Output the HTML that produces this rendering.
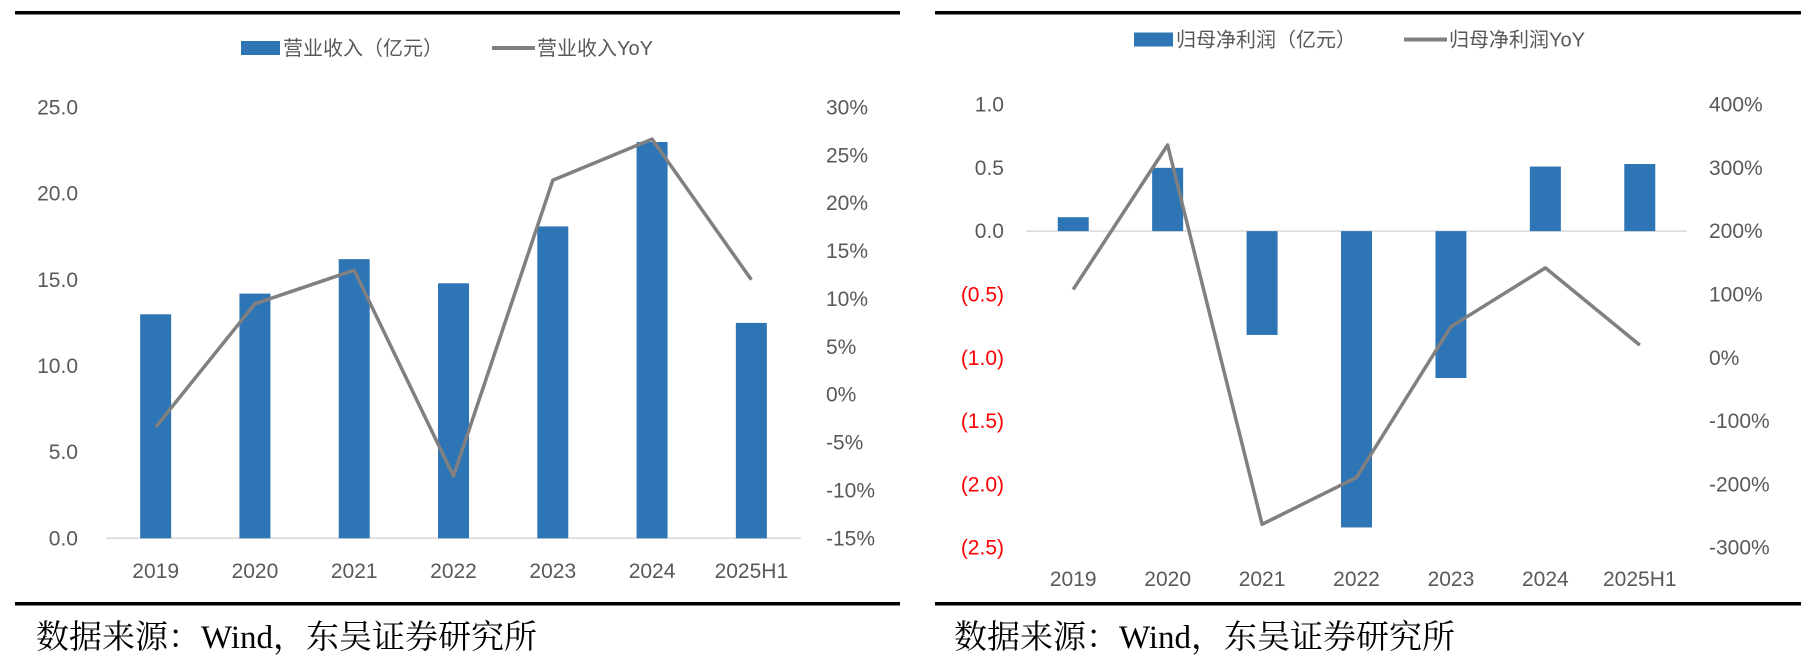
<!DOCTYPE html>
<html><head><meta charset="utf-8">
<style>
html,body{margin:0;padding:0;background:#fff;}
svg{display:block;}
text{font-family:"Liberation Sans","Noto Sans CJK SC",sans-serif;}
.src{font-family:"Liberation Serif","Noto Serif CJK SC",serif;font-size:33px;fill:#000;}
</style></head>
<body>
<svg id="c" width="1812" height="670" viewBox="0 0 1812 670" xmlns="http://www.w3.org/2000/svg">
<rect x="15" y="11" width="885" height="3.5" fill="#000"/>
<rect x="15" y="602" width="885" height="3.5" fill="#000"/>
<rect x="935" y="11" width="866" height="3.5" fill="#000"/>
<rect x="935" y="602" width="866" height="3.5" fill="#000"/>
<text class="src" x="36" y="648">数据来源：Wind，东吴证券研究所</text>
<text class="src" x="954" y="648">数据来源：Wind，东吴证券研究所</text>
</svg>
<script>
const categories = ["2019","2020","2021","2022","2023","2024","2025H1"];
const revenue = [13.0, 14.2, 16.2, 14.8, 18.1, 23.0, 12.5];
const revenueYoy = [-3.4, 9.5, 13.0, -8.5, 22.4, 26.7, 12.0];
const revTicks = [0, 5, 10, 15, 20, 25];
const revYoyTicks = [-15, -10, -5, 0, 5, 10, 15, 20, 25, 30];
const profit = [0.11, 0.50, -0.82, -2.34, -1.16, 0.51, 0.53];
const profitYoy = [108, 336, -263, -189, 49, 142, 20];
const profitTicks = [1.0, 0.5, 0.0, -0.5, -1.0, -1.5, -2.0, -2.5];
const profitYoyTicks = [400, 300, 200, 100, 0, -100, -200, -300];

const svg = document.getElementById('c');
const NS = "http://www.w3.org/2000/svg";
function mk(tag, attrs, txt){
  const e = document.createElementNS(NS, tag);
  for (const k in attrs) e.setAttribute(k, attrs[k]);
  if (txt !== undefined) e.textContent = txt;
  svg.appendChild(e);
  return e;
}
const BLUE = "#2E75B6", GREY = "#808080", LBL = "#595959";

function drawChart(o){
  const x0 = o.x0, x1 = o.x1, n = categories.length, step = (x1 - x0)/n;
  const cx = i => x0 + step*(i+0.5);
  const yL = v => o.yTop + (o.lMax - v)/(o.lMax - o.lMin)*(o.yBot - o.yTop);
  const yR = v => o.yTop + (o.rMax - v)/(o.rMax - o.rMin)*(o.yBot - o.yTop);
  let e = mk('rect', {x:o.lg.bx, y:o.lg.y-7, width:39, height:14, fill:BLUE});
  
  
  e = mk('text', {x:o.lg.bx+42, y:o.lg.y+7, 'font-size':20, fill:LBL}, o.lg.t1);
  
  
  e = mk('line', {x1:o.lg.lx, x2:o.lg.lx+43, y1:o.lg.y, y2:o.lg.y, stroke:GREY, 'stroke-width':4});
  
  
  e = mk('text', {x:o.lg.lx+45, y:o.lg.y+7, 'font-size':20, fill:LBL}, o.lg.t2);
  
  
  o.lTicks.forEach(t => {
    const neg = t < 0;
    const lab = neg ? "(" + Math.abs(t).toFixed(1) + ")" : t.toFixed(1);
    const el = mk('text', {x:o.lLabX, y:yL(t)+7, 'font-size':21, 'text-anchor':'end', fill: neg ? "#FF0000" : LBL}, lab);
    
    
  });
  o.rTicks.forEach(t => {
    const el = mk('text', {x:o.rLabX, y:yR(t)+7, 'font-size':21, fill:LBL}, t + "%");
    
    
  });
  e = mk('line', {x1:x0, x2:x1, y1:yL(0), y2:yL(0), stroke:"#D9D9D9", 'stroke-width':1.5});
  
  
  o.bars.forEach((v,i) => {
    const y = Math.min(yL(v), yL(0)), h = Math.abs(yL(v) - yL(0));
    const b = mk('rect', {x:cx(i)-15.5, y:y, width:31, height:h, fill:BLUE});
    
    
  });
  const pts = o.line.map((v,i) => cx(i).toFixed(1) + "," + yR(v).toFixed(1)).join(" ");
  e = mk('polyline', {points:pts, fill:'none', stroke:GREY, 'stroke-width':3.5, 'stroke-linejoin':'round'});
  
  
  categories.forEach((c,i) => {
    const t = mk('text', {x:cx(i), y:o.xLabY, 'font-size':21, 'text-anchor':'middle', fill:LBL}, c);
    
    
  });
}

drawChart({x0:106, x1:801, yTop:107.5, yBot:538.3, lMin:0, lMax:25, rMin:-15, rMax:30,
  lTicks:revTicks, rTicks:revYoyTicks, lLabX:78, rLabX:826, xLabY:578,
  bars:revenue, line:revenueYoy,
  lg:{bx:241, y:48, lx:492, t1:"营业收入（亿元）", t2:"营业收入YoY"}});
drawChart({x0:1026, x1:1687, yTop:104.5, yBot:547.7, lMin:-2.5, lMax:1.0, rMin:-300, rMax:400,
  lTicks:profitTicks, rTicks:profitYoyTicks, lLabX:1004, rLabX:1709, xLabY:586,
  bars:profit, line:profitYoy,
  lg:{bx:1134, y:39.5, lx:1404, t1:"归母净利润（亿元）", t2:"归母净利润YoY"}});
</script>
</body></html>
